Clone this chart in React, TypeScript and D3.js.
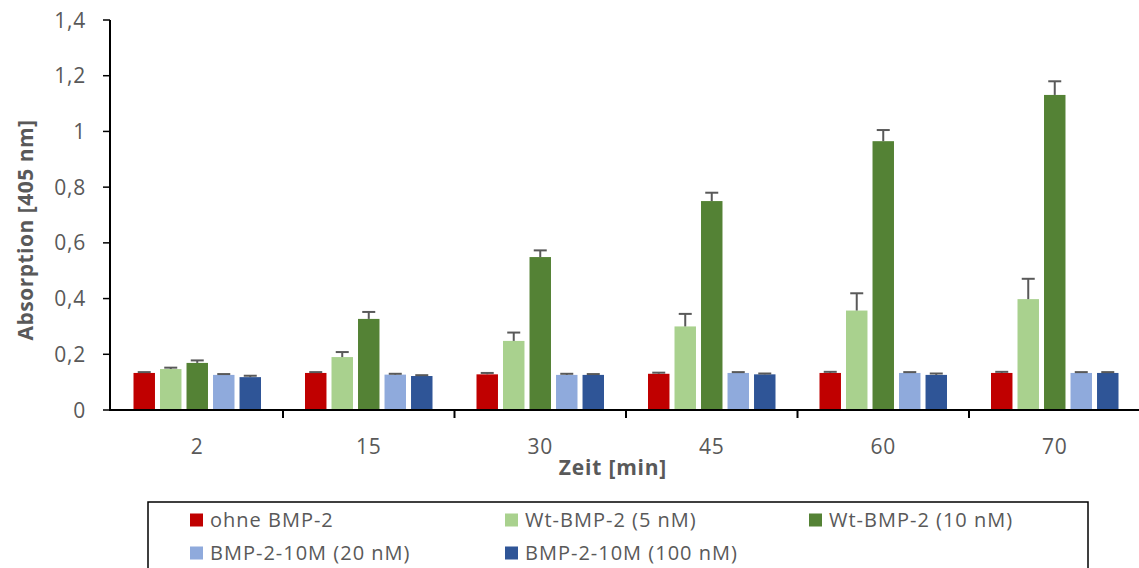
import React from "react";
import * as d3 from "d3";

const categories = ["2", "15", "30", "45", "60", "70"];
const seriesNames = [
  "ohne BMP-2",
  "Wt-BMP-2 (5 nM)",
  "Wt-BMP-2 (10 nM)",
  "BMP-2-10M (20 nM)",
  "BMP-2-10M (100 nM)",
];
const seriesColors = ["#C00000", "#A9D18E", "#548235", "#8FAADC", "#2F5597"];

// mean absorption per series, one value per time point
const ohneBmp = [0.133, 0.133, 0.128, 0.13, 0.133, 0.133];
const wt5 = [0.147, 0.19, 0.248, 0.3, 0.357, 0.398];
const wt10 = [0.169, 0.327, 0.549, 0.75, 0.965, 1.131];
const m20 = [0.126, 0.127, 0.126, 0.133, 0.133, 0.133];
const m100 = [0.118, 0.122, 0.126, 0.128, 0.126, 0.133];

// standard deviations (upper error bars)
const ohneBmpErr = [0.003, 0.003, 0.005, 0.004, 0.004, 0.004];
const wt5Err = [0.005, 0.018, 0.03, 0.045, 0.062, 0.073];
const wt10Err = [0.009, 0.025, 0.024, 0.03, 0.04, 0.049];
const m20Err = [0.003, 0.003, 0.004, 0.003, 0.003, 0.003];
const m100Err = [0.005, 0.003, 0.003, 0.003, 0.005, 0.003];

const yTicks = [0, 0.2, 0.4, 0.6, 0.8, 1, 1.2, 1.4];

const seriesValues = [ohneBmp, wt5, wt10, m20, m100];
const seriesErrors = [ohneBmpErr, wt5Err, wt10Err, m20Err, m100Err];

const W = 1139;
const H = 568;
const FONT = "'Open Sans', 'Noto Sans', sans-serif";
const GREY = "#595959";

export default function App() {
  const x0 = d3.scaleBand<string>().domain(categories).range([111.5, 1140.5]).padding(0);
  const x1 = d3
    .scaleBand<string>()
    .domain(seriesNames)
    .range([22, x0.bandwidth() - 22])
    .paddingInner(0.19)
    .paddingOuter(0);
  const y = d3.scaleLinear().domain([0, 1.4]).range([410, 20]);
  const fmt = (v: number) => d3.format("~g")(v).replace(".", ",");

  const yAxisX = 110;
  const baseY = y(0);

  const legendRows = [
    [0, 1, 2],
    [3, 4],
  ];
  const legendColX = [190, 505, 809];
  const legendRowY = [520, 553];

  return (
    <svg
      width={W}
      height={H}
      style={{ position: "absolute", left: 0, top: 0, background: "#fff" }}
      fontFamily={FONT}
    >
      {/* bars */}
      {categories.map((c, ci) => (
        <g key={c} transform={`translate(${x0(c)},0)`}>
          {seriesNames.map((s, si) => {
            const v = seriesValues[si][ci];
            const e = seriesErrors[si][ci];
            const bx = x1(s)!;
            const bw = x1.bandwidth();
            const cx = bx + bw / 2;
            return (
              <g key={s}>
                <rect x={bx} y={y(v)} width={bw} height={baseY - y(v)} fill={seriesColors[si]} />
                <line x1={cx} x2={cx} y1={y(v)} y2={y(v + e)} stroke={GREY} strokeWidth={2} />
                <line x1={cx - 6.5} x2={cx + 6.5} y1={y(v + e)} y2={y(v + e)} stroke={GREY} strokeWidth={2} />
              </g>
            );
          })}
        </g>
      ))}

      {/* y axis */}
      <line x1={yAxisX} x2={yAxisX} y1={y(1.4)} y2={baseY + 1} stroke="#000" strokeWidth={2} />
      {yTicks.map((t) => (
        <g key={t}>
          <line x1={yAxisX - 7} x2={yAxisX} y1={y(t)} y2={y(t)} stroke="#000" strokeWidth={1.5} />
          <text x={86} y={y(t)} dy="0.36em" textAnchor="end" fontSize={21} letterSpacing={0.8} fill={GREY}>
            {fmt(t)}
          </text>
        </g>
      ))}
      <text
        transform={`translate(33,230) rotate(-90)`}
        textAnchor="middle"
        fontSize={21}
        fontWeight="bold"
        letterSpacing={0.5}
        fill={GREY}
      >
        Absorption [405 nm]
      </text>

      {/* x axis */}
      <line x1={yAxisX} x2={W} y1={baseY} y2={baseY} stroke="#000" strokeWidth={2} />
      {categories.slice(1).map((c) => (
        <line key={c} x1={x0(c)} x2={x0(c)} y1={baseY} y2={baseY + 8} stroke="#000" strokeWidth={2} />
      ))}
      {categories.map((c) => (
        <text
          key={c}
          x={x0(c)! + x0.bandwidth() / 2}
          y={446}
          dy="0.36em"
          textAnchor="middle"
          fontSize={21}
          letterSpacing={0.8}
          fill={GREY}
        >
          {c}
        </text>
      ))}
      <text
        x={613}
        y={467}
        dy="0.36em"
        textAnchor="middle"
        fontSize={21}
        fontWeight="bold"
        letterSpacing={0.8}
        fill={GREY}
      >
        Zeit [min]
      </text>

      {/* legend */}
      <rect x={148} y={502} width={940} height={80} fill="none" stroke="#000" strokeWidth={1.5} />
      {legendRows.map((row, ri) =>
        row.map((si, k) => (
          <g key={si} transform={`translate(${legendColX[k]},${legendRowY[ri]})`}>
            <rect x={0} y={-6.5} width={13} height={13} fill={seriesColors[si]} />
            <text x={20} y={0} dy="0.36em" fontSize={20} letterSpacing={1} fill={GREY}>
              {seriesNames[si]}
            </text>
          </g>
        ))
      )}
    </svg>
  );
}
